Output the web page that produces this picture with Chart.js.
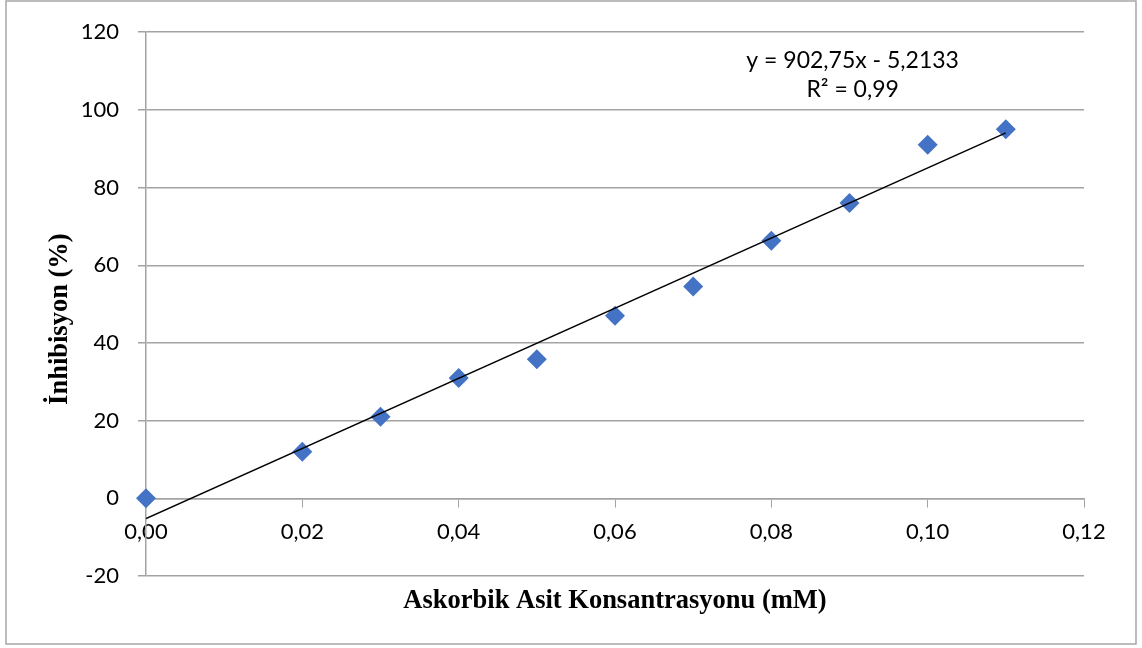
<!DOCTYPE html>
<html lang="tr">
<head>
  <meta charset="UTF-8">
  <title>Askorbik Asit - İnhibisyon</title>
  <script src="https://cdn.jsdelivr.net/npm/chart.js@4.4.0/dist/chart.umd.min.js"></script>
  <style>
    html, body { margin: 0; padding: 0; background: #fff; }
    canvas { display: block; }
  </style>
</head>
<body>
  <canvas id="chart" width="1142" height="648"></canvas>
  <script>
    // Askorbik asit konsantrasyonu (mM) ve inhibisyon (%)
    const concentrations = [0.00, 0.02, 0.03, 0.04, 0.05, 0.06, 0.07, 0.08, 0.09, 0.10, 0.11];
    const inhibition     = [0,    12,   21,   31,   35.8, 47,   54.5, 66.3, 76,   91,   95];

    // doğrusal regresyon (grafik üzerindeki denklem)
    const slope = 902.75;
    const intercept = -5.2133;
    const rSquared = 0.99;
    const fitRange = [0.00, 0.11];

    const xTitle = 'Askorbik Asit Konsantrasyonu (mM)';
    const yTitle = 'İnhibisyon (%)';

    const gridColor = '#a3a3a3';
    const tickFont = { family: 'Lato', size: 22 };

    const fmt = (v, d) => v.toFixed(d).replace('.', ',');

    const points = concentrations.map((c, i) => ({ x: c, y: inhibition[i] }));
    const fitLine = fitRange.map(x => ({ x: x, y: slope * x + intercept }));

    // eksen başlıkları, denklem ve dış çerçeve
    const decorations = {
      id: 'decorations',
      afterDraw(chart) {
        const { ctx, chartArea, scales } = chart;
        ctx.save();
        ctx.fillStyle = '#000';
        ctx.textAlign = 'center';
        ctx.textBaseline = 'middle';

        ctx.font = 'bold 26.5px "Liberation Serif"';
        ctx.fillText(xTitle, (chartArea.left + chartArea.right) / 2, chartArea.bottom + 25);

        ctx.save();
        ctx.translate(60, (chartArea.top + chartArea.bottom) / 2 + 15);
        ctx.rotate(-Math.PI / 2);
        ctx.fillText(yTitle, 0, 0);
        ctx.restore();

        ctx.font = '23px Lato';
        const ex = scales.x.getPixelForValue(0.0904);
        ctx.fillText('y = ' + fmt(slope, 2) + 'x - ' + fmt(-intercept, 4), ex, scales.y.getPixelForValue(112.7));
        ctx.fillText('R² = ' + fmt(rSquared, 2), ex, scales.y.getPixelForValue(105.2));

        ctx.strokeStyle = '#a6a6a6';
        ctx.lineWidth = 1.5;
        ctx.strokeRect(6, 1, 1130, 643);
        ctx.restore();
      }
    };

    new Chart(document.getElementById('chart'), {
      type: 'scatter',
      data: {
        datasets: [
          {
            label: 'Doğrusal',
            data: fitLine,
            showLine: true,
            borderColor: '#000',
            borderWidth: 1.5,
            pointRadius: 0,
            order: 0
          },
          {
            label: 'İnhibisyon',
            data: points,
            pointStyle: 'rectRot',
            pointRadius: 10,
            pointHoverRadius: 10,
            backgroundColor: '#4472C4',
            borderWidth: 0,
            clip: false,
            order: 1
          }
        ]
      },
      options: {
        responsive: false,
        animation: false,
        devicePixelRatio: 1,
        layout: { padding: { left: 0, top: 30, right: 58, bottom: 72 } },
        plugins: {
          legend: { display: false },
          tooltip: { enabled: false }
        },
        scales: {
          x: {
            type: 'linear',
            position: { y: 0 },
            min: 0,
            max: 0.12,
            grid: { drawOnChartArea: false, drawTicks: true, tickLength: 8, color: gridColor },
            border: { color: gridColor, width: 1.5 },
            ticks: {
              stepSize: 0.02,
              color: '#000',
              font: tickFont,
              padding: 12,
              callback: v => fmt(v, 2)
            }
          },
          y: {
            min: -20,
            max: 120,
            grid: { color: gridColor, lineWidth: 1.5, tickLength: 8 },
            border: { color: gridColor, width: 1.5 },
            ticks: { stepSize: 20, color: '#000', font: tickFont, padding: 19 },
            afterFit(scale) { scale.width = 146; }
          }
        }
      },
      plugins: [decorations]
    });
  </script>
</body>
</html>
